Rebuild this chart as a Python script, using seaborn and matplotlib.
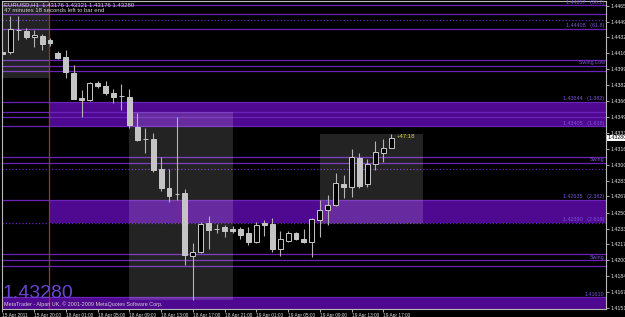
import numpy as np
import pandas as pd
import matplotlib
matplotlib.use("Agg")
import matplotlib.pyplot as plt
import seaborn as sns

# EURUSD H1 bars, 15 Apr 2011 16:00 .. 19 Apr 2011 18:00
opens = [1.44173, 1.44173, 1.44402, 1.44391, 1.44329, 1.44339, 1.44298, 1.44162, 1.44121, 1.43954,
         1.43694, 1.43673, 1.43850, 1.43819, 1.43746, 1.43715, 1.43704, 1.43392, 1.43267, 1.43267,
         1.42955, 1.42757, 1.42694, 1.42705, 1.42049, 1.42091, 1.42393, 1.42330, 1.42351, 1.42330,
         1.42330, 1.42288, 1.42195, 1.42393, 1.42382, 1.42122, 1.42205, 1.42288, 1.42226, 1.42195,
         1.42424, 1.42528, 1.42580, 1.42799, 1.42767, 1.43069, 1.42799, 1.43007, 1.43121, 1.43176]
highs = [1.44193, 1.44547, 1.44547, 1.44423, 1.44402, 1.44360, 1.44318, 1.44183, 1.44193, 1.44037,
         1.43777, 1.43860, 1.43871, 1.43871, 1.43788, 1.43840, 1.43788, 1.43538, 1.43382, 1.43329,
         1.43080, 1.42955, 1.43496, 1.42747, 1.42184, 1.42403, 1.42465, 1.42382, 1.42372, 1.42361,
         1.42351, 1.42351, 1.42403, 1.42424, 1.42445, 1.42309, 1.42309, 1.42299, 1.42330, 1.42445,
         1.42632, 1.42684, 1.42913, 1.42892, 1.43163, 1.43121, 1.43059, 1.43246, 1.43267, 1.43321]
lows = [1.44131, 1.44152, 1.44298, 1.44308, 1.44225, 1.44193, 1.44235, 1.44100, 1.43902, 1.43680,
        1.43496, 1.43663, 1.43798, 1.43725, 1.43642, 1.43569, 1.43382, 1.43246, 1.43121, 1.42923,
        1.42726, 1.42611, 1.42632, 1.41955, 1.41595, 1.42080, 1.42122, 1.42288, 1.42247, 1.42288,
        1.42226, 1.42164, 1.42184, 1.42257, 1.42091, 1.42049, 1.42195, 1.42216, 1.42184, 1.42039,
        1.42247, 1.42372, 1.42570, 1.42653, 1.42663, 1.42757, 1.42767, 1.42944, 1.43028, 1.43176]
closes = [1.44152, 1.44412, 1.44398, 1.44329, 1.44350, 1.44256, 1.44266, 1.44110, 1.43964, 1.43683,
          1.43673, 1.43850, 1.43819, 1.43746, 1.43704, 1.43712, 1.43413, 1.43257, 1.43264, 1.42944,
          1.42757, 1.42674, 1.42690, 1.42059, 1.42091, 1.42382, 1.42320, 1.42327, 1.42309, 1.42309,
          1.42268, 1.42195, 1.42372, 1.42372, 1.42122, 1.42226, 1.42288, 1.42226, 1.42195, 1.42434,
          1.42528, 1.42580, 1.42809, 1.42767, 1.43080, 1.42778, 1.43007, 1.43132, 1.43173, 1.43280]

time_ticks = [0, 4, 8, 12, 16, 20, 24, 28, 32, 36, 40, 44, 48]
time_labels = ["15 Apr 2011", "15 Apr 20:00", "18 Apr 01:00", "18 Apr 05:00", "18 Apr 09:00",
               "18 Apr 13:00", "18 Apr 17:00", "18 Apr 21:00", "19 Apr 01:00", "19 Apr 05:00",
               "19 Apr 09:00", "19 Apr 13:00", "19 Apr 17:00"]

price_ticks = [1.44655, 1.44490, 1.44325, 1.44160, 1.43995, 1.43825, 1.43660, 1.43495, 1.43330,
               1.43165, 1.43000, 1.42835, 1.42670, 1.42500, 1.42335, 1.42170, 1.42005, 1.41840,
               1.41675, 1.41510]

# horizontal fibo / swing lines
level_prices = [1.44659, 1.44565, 1.44506, 1.44412, 1.44089, 1.44027, 1.43975, 1.43652, 1.43548,
                1.43496, 1.43402, 1.43080, 1.43017, 1.42955, 1.42632, 1.42393, 1.42070, 1.42007,
                1.41945, 1.41622]
level_styles = ["-", "-", ":", "-", "-", "-", "-", "-", "-", "-", "-", "-", "-", ":", "-", ":",
                "-", "-", "-", "-"]

# filled zones (low, high, starting bar)
zone_low = [1.43402, 1.42393, 1.41490]
zone_high = [1.43652, 1.42632, 1.41622]
zone_start = [5.92, 5.92, -1]

level_texts = ["1.44657   (38.2)", "1.44408   (61.8)", "Swing Low", "1.43644   (1.382)",
               "1.43405   (1.618)", "Swing", "1.42635   (2.382)", "1.42390   (2.618)", "Swing",
               "1.41610"]
level_text_prices = [1.44659, 1.44412, 1.44027, 1.43652, 1.43402, 1.43017, 1.42632, 1.42393,
                     1.42007, 1.41622]

# session boxes (bar from, bar to, price low, price high)
box_x0 = [-1, 16, 40]
box_x1 = [5.92, 29, 53]
box_lo = [1.43902, 1.41591, 1.42382]
box_hi = [1.44800, 1.43548, 1.43319]

sns.set_theme(style="dark", rc={"axes.facecolor": "black", "figure.facecolor": "black"})
plt.rcParams["font.family"] = ["Liberation Sans Narrow", "Liberation Sans", "DejaVu Sans"]

W, H = 625, 317
fig = plt.figure(figsize=(W / 100, H / 100), dpi=100)
ax = fig.add_axes([2 / W, 8 / H, 604 / W, 308 / H])
ax.set_facecolor("black")

df = pd.DataFrame({"open": opens, "high": highs, "low": lows, "close": closes})
df["bar"] = np.arange(len(df))
df["bull"] = df["close"] >= df["open"]

xmax = 76.07
band_fill = "#4f0890"
line_col = "#6a22b8"

for lo, hi, x0 in zip(zone_low, zone_high, zone_start):
    ax.fill_between([x0, xmax + 1], lo, hi, color=band_fill, lw=0, zorder=1)

for p, ls in zip(level_prices, level_styles):
    ax.axhline(p, color=line_col, lw=0.9, ls=ls, zorder=2)

for x0, x1, lo, hi in zip(box_x0, box_x1, box_lo, box_hi):
    ax.fill_between([x0, x1], lo, hi, color="white", alpha=0.14, lw=0, zorder=3)

ax.axvline(5.92, color="#9a3a1c", lw=0.9, zorder=3)

# candles
ax.vlines(df["bar"], df["low"], df["high"], color="#b4b4b4", lw=0.8, zorder=4)
body_lo = df[["open", "close"]].min(axis=1)
body_h = (df["close"] - df["open"]).abs().clip(lower=0.00002)
face = np.where(df["bull"], "black", "#c4c4c4")
ax.bar(df["bar"], body_h, bottom=body_lo, width=0.62, color=face,
       edgecolor="#c8c8c8", linewidth=0.7, zorder=5)

ax.set_xlim(-0.05, xmax)
ax.set_ylim(1.41498, 1.44704)

ax.set_xticks(time_ticks)
ax.set_xticklabels(time_labels, ha="left")
ax.yaxis.tick_right()
ax.set_yticks(price_ticks)
ax.set_yticklabels([f"{v:.5f}" for v in price_ticks])
ax.tick_params(axis="both", colors="#c8c8c8", labelcolor="#e0e0e0",
               length=2.5, width=0.6, direction="out")
ax.tick_params(axis="x", labelsize=3.4, pad=0.3, bottom=True)
ax.tick_params(axis="y", labelsize=3.8, pad=0.8, right=True, left=False)
for s in ax.spines.values():
    s.set_color("#b8b8b8")
    s.set_linewidth(0.8)
ax.grid(False)

for txt, p in zip(level_texts, level_text_prices):
    ax.text(75.9, p + 0.00006, txt, color="#7d52d8", fontsize=3.9, ha="right", va="bottom",
            zorder=6)

ax.text(49.7, 1.43291, "+47:18", color="#d8d820", fontsize=4.3, ha="left", va="center", zorder=6)

# current price marker on the axis
ax.text(1.0025, 1.43280, "1.43280", transform=ax.get_yaxis_transform(), color="black",
        fontsize=3.8, ha="left", va="center", zorder=7,
        bbox=dict(boxstyle="square,pad=0.15", fc="white", ec="none"))

fig.text(4 / W, 1 - 5 / H, "EURUSD,H1  1.43176 1.43321 1.43176 1.43280", color="#d0d0d0",
         fontsize=4.3, va="center")
fig.text(4 / W, 1 - 10.5 / H, "47 minutes 18 seconds left to bar end", color="#d0d0d0",
         fontsize=4.3, va="center")
fig.text(3 / W, 1 - 294 / H, "1.43280", color="#6a44d0", fontsize=14, va="center")
fig.text(4 / W, 1 - 304 / H, "MetaTrader - Alpari UK, \u00a9 2001-2009 MetaQuotes Software Corp.",
         color="#d0d0d0", fontsize=3.9, va="center")

fig.savefig("out.png", dpi=100, facecolor="black")
